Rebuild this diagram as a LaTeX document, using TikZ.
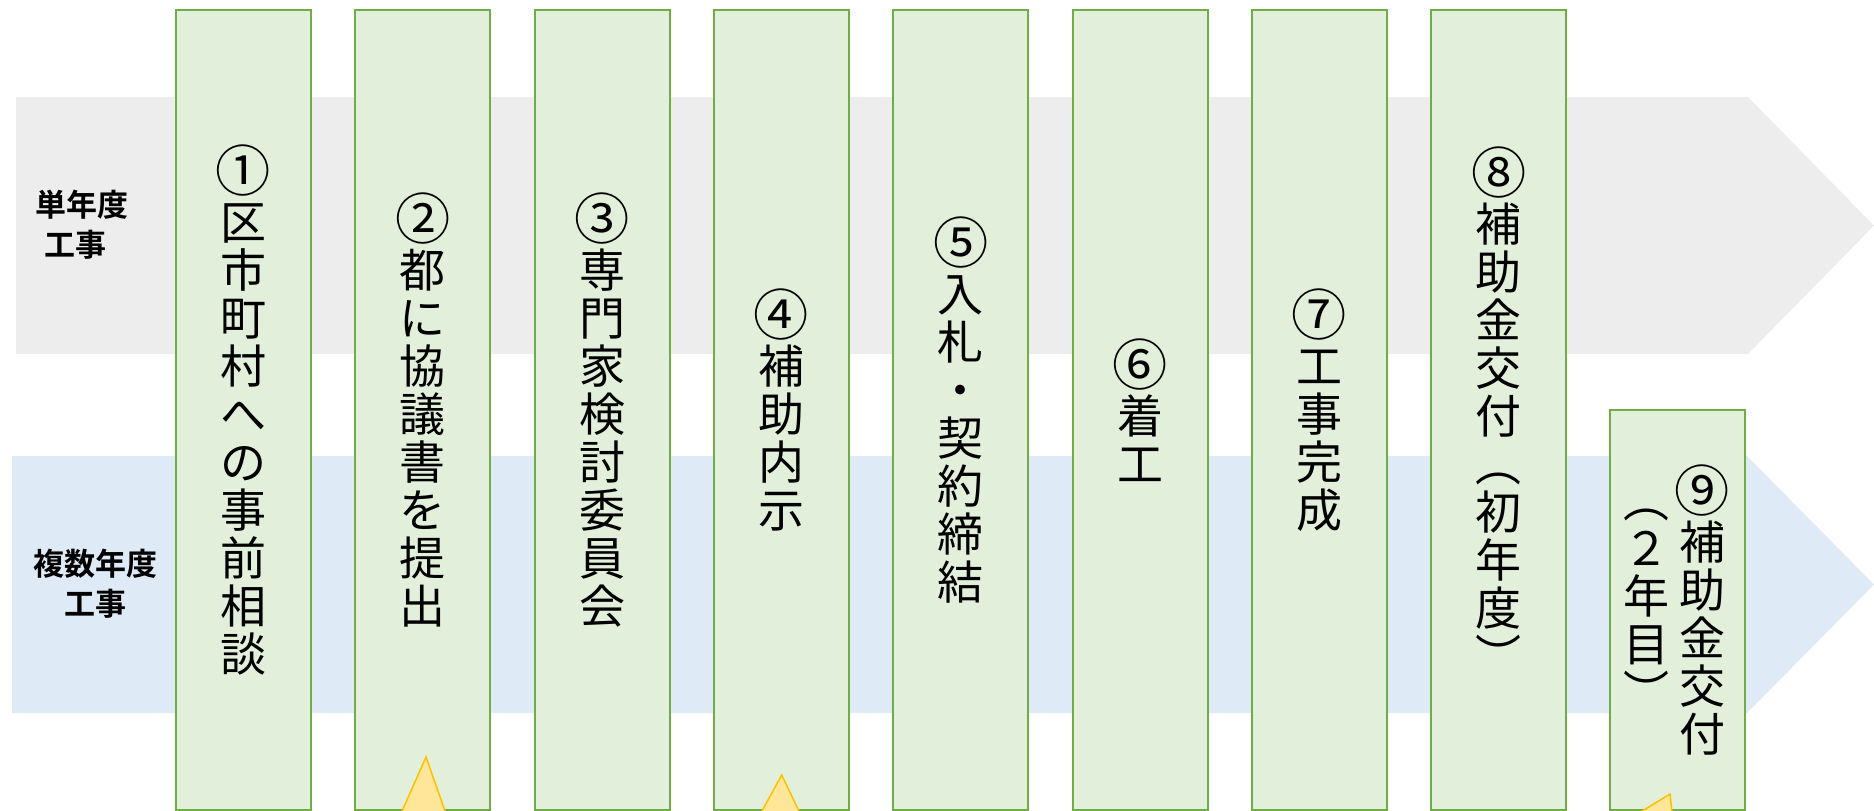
\documentclass[tikz,border=0pt]{standalone}
\usepackage{fontspec}
\setmainfont{Noto Sans CJK JP}[BoldFont={Noto Sans CJK JP Bold}]

\definecolor{bandgray}{HTML}{EDEDED}
\definecolor{bandblue}{HTML}{DEEBF7}
\definecolor{boxfill}{HTML}{E2EFDA}
\definecolor{boxline}{HTML}{70AD47}
\definecolor{markfill}{HTML}{FFE699}
\definecolor{markline}{HTML}{FFC000}

\newcommand\stepno[1]{\scalebox{1.2}{#1}}

\begin{document}
\begin{tikzpicture}[x=1pt,y=-1pt,
    stepbox/.style={draw=boxline,fill=boxfill,line width=2pt,
      minimum width=135pt,minimum height=800pt,inner sep=0pt,
      align=center,font=\fontsize{46}{48}\selectfont},
    steptext/.style={inner sep=0pt,align=center,font=\fontsize{46}{48}\selectfont},
    bandlabel/.style={inner sep=0pt,font=\fontsize{31}{40}\selectfont\bfseries},
    pointer/.style={fill=markfill,draw=markline,line width=1.5pt,line join=miter}]
  \useasboundingbox (0,0) rectangle (1874,811);
  % the two arrows
  \fill[bandgray] (16,97) -- (1748,97) -- (1874,225.5) -- (1748,354) -- (16,354) -- cycle;
  \fill[bandblue] (12,456) -- (1747,456) -- (1874,584.5) -- (1747,713) -- (12,713) -- cycle;
  \node[bandlabel,align=left] (single) at (82,225) {単年度\\\hspace*{9pt}工事};
  \node[bandlabel,align=center] (multi) at (95,584) {複数年度\\工事};
  % steps
  \node[stepbox] (s1) at (243.5,410) {\stepno{①}\\区\\市\\町\\村\\へ\\の\\事\\前\\相\\談};
  \node[stepbox] (s2) at (422.8,410) {\stepno{②}\\都\\に\\協\\議\\書\\を\\提\\出};
  \node[stepbox] (s3) at (602.1,410) {\stepno{③}\\専\\門\\家\\検\\討\\委\\員\\会};
  \node[stepbox] (s4) at (781.4,410) {\stepno{④}\\補\\助\\内\\示};
  \node[stepbox] (s5) at (960.7,410) {\stepno{⑤}\\入\\札\\・\\契\\約\\締\\結};
  \node[stepbox] (s6) at (1140,410) {\stepno{⑥}\\着\\工};
  \node[stepbox] (s7) at (1319.3,410) {\stepno{⑦}\\工\\事\\完\\成};
  \node[stepbox] (s8) at (1498.6,410) {\stepno{⑧}\\補\\助\\金\\交\\付\\︵\\初\\年\\度\\︶};
  \node[stepbox,minimum height=400pt] (s9) at (1677.5,610) {};
  \node[steptext] (s9a) at (1702,610) {\stepno{⑨}\\補\\助\\金\\交\\付};
  \node[steptext] (s9b) at (1646,609) {︵\\２\\年\\目\\︶};
  % markers from below
  \begin{scope}
    \clip (0,0) rectangle (1874,811);
    \draw[pointer] (426,757) -- (393.6,830) -- (451.7,830) -- cycle;
    \draw[pointer] (781.7,775) -- (751.5,830) -- (808,830) -- cycle;
    \draw[pointer] (1670,794) -- (1611,830) -- (1674,830) -- cycle;
  \end{scope}
\end{tikzpicture}
\end{document}
